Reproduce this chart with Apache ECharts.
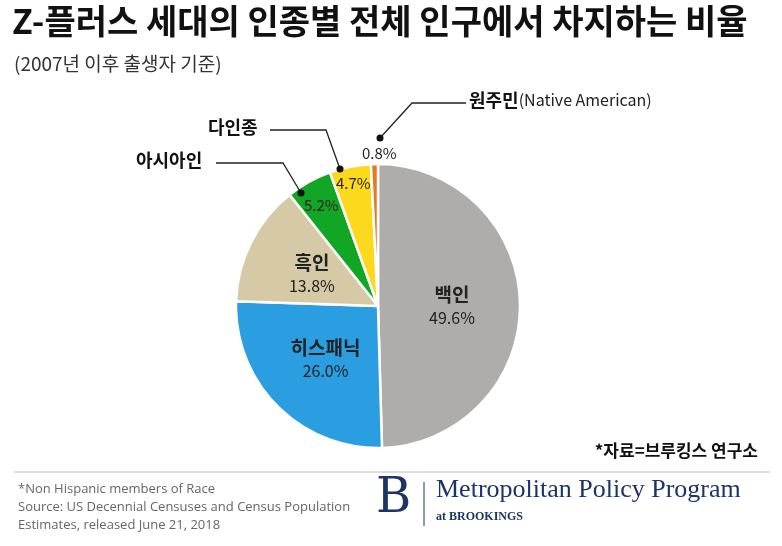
<!DOCTYPE html>
<html><head><meta charset="utf-8">
<script src="https://cdn.jsdelivr.net/npm/echarts@6/dist/echarts.min.js"></script>
<style>body{margin:0;background:#fff}#c{width:782px;height:546px}</style>
</head><body><div id="c"></div>
<script>
// 인종별 비율
var groups = ['백인', '히스패닉', '흑인', '아시아인', '다인종', '원주민'];
var shares = [49.6, 26.0, 13.8, 5.2, 4.7, 0.8];
var colors = ['#aeadab', '#2a9ee0', '#d5c9a6', '#11a623', '#fcd91c', '#e8791f'];
var KR = '"Noto Sans CJK KR", sans-serif';

var chart = echarts.init(document.getElementById('c'));
var data = groups.map(function (g, i) {
    var big = i < 3;
    return {
        name: g, value: shares[i], itemStyle: { color: colors[i] },
        label: { show: big }
    };
});
chart.setOption({
    animation: false,
    series: [{
        type: 'pie', center: [378, 306], radius: 142, startAngle: 90, z: 1,
        itemStyle: { borderColor: '#fff', borderWidth: 2.5 },
        label: {
            position: 'inside', fontFamily: KR, color: '#222',
            formatter: function (p) { return '{n|' + p.name + '}\n{v|' + p.value.toFixed(1) + '%}'; },
            rich: {
                n: { fontSize: 19, fontWeight: 'bold', fontFamily: KR, lineHeight: 26, color: '#222' },
                v: { fontSize: 16, fontFamily: KR, lineHeight: 20, color: '#222' }
            }
        },
        labelLine: { show: false },
        data: data
    }],
    graphic: { elements: [
        { type: 'text', left: 12, top: 4, style: { text: 'Z-플러스 세대의 인종별 전체 인구에서 차지하는 비율', font: 'bold 34px ' + KR, fill: '#111' } },
        { type: 'text', left: 14, top: 54, style: { text: '(2007년 이후 출생자 기준)', font: '19px ' + KR, fill: '#333' } },
        // callouts
        { type: 'text', z: 100, left: 304, top: 198, style: { text: '5.2%', font: '15px ' + KR, fill: '#222' } },
        { type: 'text', z: 100, left: 336, top: 176, style: { text: '4.7%', font: '15px ' + KR, fill: '#222' } },
        { type: 'text', z: 100, left: 362, top: 146, style: { text: '0.8%', font: '15px ' + KR, fill: '#222' } },
        { type: 'polyline', z: 100, shape: { points: [[216, 163], [283, 163], [301, 193]] }, style: { stroke: '#222', lineWidth: 1.3, fill: null } },
        { type: 'circle', z: 100, shape: { cx: 301, cy: 193, r: 3.5 }, style: { fill: '#111' } },
        { type: 'text', left: 136, top: 151, style: { text: '아시아인', font: 'bold 18px ' + KR, fill: '#111' } },
        { type: 'polyline', z: 100, shape: { points: [[270, 130], [326, 130], [340, 169]] }, style: { stroke: '#222', lineWidth: 1.3, fill: null } },
        { type: 'circle', z: 100, shape: { cx: 340, cy: 169, r: 3.5 }, style: { fill: '#111' } },
        { type: 'text', left: 208, top: 118, style: { text: '다인종', font: 'bold 18px ' + KR, fill: '#111' } },
        { type: 'polyline', z: 100, shape: { points: [[466, 103], [412, 103], [380, 138]] }, style: { stroke: '#222', lineWidth: 1.3, fill: null } },
        { type: 'circle', z: 100, shape: { cx: 380, cy: 138, r: 3.5 }, style: { fill: '#111' } },
        { type: 'text', left: 469, top: 91, style: { text: '{a|원주민}{b|(Native American)}', rich: { a: { font: 'bold 18px ' + KR, fill: '#111' }, b: { font: '16px ' + KR, fill: '#222' } } } },
        // source
        { type: 'text', right: 24, top: 442, style: { text: '*자료=브루킹스 연구소', font: 'bold 17px ' + KR, fill: '#111' } },
        { type: 'line', shape: { x1: 14, y1: 472, x2: 770, y2: 472 }, style: { stroke: '#bbb', lineWidth: 1 } },
        { type: 'text', left: 18, top: 480, style: { text: '*Non Hispanic members of Race\nSource: US Decennial Censuses and Census Population\nEstimates, released June 21, 2018', font: '13px "Open Sans", sans-serif', fill: '#666', lineHeight: 18 } },
        { type: 'text', left: 376, top: 476, style: { text: 'B', font: '48px "DejaVu Serif", serif', fill: '#1c3564' } },
        { type: 'line', shape: { x1: 424, y1: 482, x2: 424, y2: 526 }, style: { stroke: '#1c3564', lineWidth: 1 } },
        { type: 'text', left: 436, top: 477, style: { text: 'Metropolitan Policy Program', font: '26px "Liberation Serif", serif', fill: '#1c3564' } },
        { type: 'text', left: 436, top: 511, style: { text: 'at BROOKINGS', font: 'bold 12px "Liberation Serif", serif', fill: '#1c3564' } }
    ] }
});
</script></body></html>
